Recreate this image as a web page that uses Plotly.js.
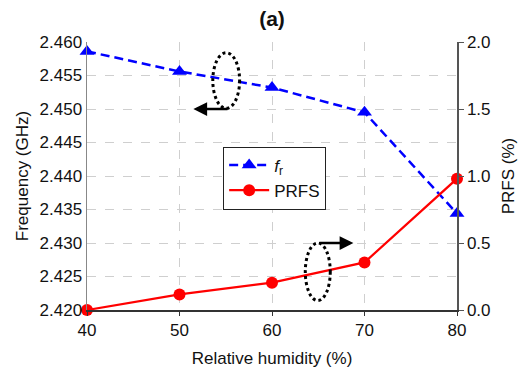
<!DOCTYPE html>
<html><head><meta charset="utf-8">
<script src="https://cdn.plot.ly/plotly-3.0.1.min.js"></script>
<style>body{margin:0;background:#fff}#c{width:528px;height:371px}</style>
</head><body><div id="c"></div>
<script>
const humidity = [40, 50, 60, 70, 80];
const freqGHz = [2.4586, 2.4556, 2.4532, 2.4495, 2.4344];
const prfs = [0.0, 0.116, 0.204, 0.355, 0.98];
const leftTicks = [2.420, 2.425, 2.430, 2.435, 2.440, 2.445, 2.450, 2.455, 2.460];
const rightTicks = [0.0, 0.5, 1.0, 1.5, 2.0];
const xTicks = [40, 50, 60, 70, 80];

const ff = 'Liberation Sans, Arial, sans-serif';
const traces = [
  {x: humidity, y: freqGHz, name: '<i>f</i><sub>r</sub>', mode: 'lines+markers', yaxis: 'y',
   line: {color: '#0000ff', width: 2.5, dash: '9px,5px'}, marker: {symbol: 'triangle-up', size: 13, color: '#0000ff'}, cliponaxis: false},
  {x: humidity, y: prfs, name: 'PRFS', mode: 'lines+markers', yaxis: 'y2',
   line: {color: '#ff0000', width: 2.2}, marker: {symbol: 'circle', size: 12, color: '#ff0000'}, cliponaxis: false}
];
const layout = {
  width: 528, height: 371,
  margin: {l: 87, r: 71, t: 42, b: 61},
  paper_bgcolor: '#fff', plot_bgcolor: '#fff',
  font: {family: ff, size: 17, color: '#111'},
  title: {text: '<b>(a)</b>', x: 0.5, xref: 'paper', y: 0.951, yanchor: 'middle', yref: 'container', font: {family: ff, size: 21, color: '#111'}},
  showlegend: true,
  legend: {x: 0.368, y: 0.61, xanchor: 'left', yanchor: 'top', bordercolor: '#222', borderwidth: 1, bgcolor: '#fff',
           font: {family: ff, size: 17, color: '#111'}, tracegroupgap: 0, itemwidth: 40},
  xaxis: {range: [40, 80], tickvals: xTicks, ticktext: xTicks.map(String), showgrid: true, gridcolor: '#cfcfcf', griddash: 'dash',
          zeroline: false, showline: true, linecolor: '#333', linewidth: 1.5, ticks: 'outside', ticklen: 4, tickcolor: '#333',
          title: {text: 'Relative humidity (%)', font: {size: 17}, standoff: 13}, tickfont: {size: 17}},
  yaxis: {range: [2.420, 2.460], tickvals: leftTicks, ticktext: leftTicks.map(v => v.toFixed(3)), showgrid: true, gridcolor: '#cfcfcf', griddash: 'dash',
          zeroline: false, showline: true, linecolor: '#888', linewidth: 1.5, ticks: '',
          title: {text: 'Frequency (GHz)', font: {size: 17}, standoff: 6}, tickfont: {size: 17}},
  yaxis2: {range: [0, 2.0], tickvals: rightTicks, ticktext: rightTicks.map(v => v.toFixed(1)), overlaying: 'y', side: 'right', showgrid: false,
          zeroline: false, showline: true, linecolor: '#555', linewidth: 1.5, ticks: 'outside', ticklen: 5, tickcolor: '#555',
          title: {text: 'PRFS (%)', font: {size: 17}, standoff: 12}, tickfont: {size: 17}},
  shapes: [
    {type: 'circle', xref: 'x', yref: 'y', x0: 53.6, x1: 56.5, y0: 2.4501, y1: 2.4584, line: {color: '#000', width: 3, dash: '3px,3px'}},
    {type: 'circle', xref: 'x', yref: 'y', x0: 63.6, x1: 66.3, y0: 2.4214, y1: 2.4300, line: {color: '#000', width: 3, dash: '3px,3px'}}
  ],
  annotations: [
    {xref: 'x', yref: 'y', x: 51.5, y: 2.4500, ax: 55.35, ay: 2.4500, axref: 'x', ayref: 'y', showarrow: true, arrowhead: 2, arrowsize: 1.1, arrowwidth: 2.5, arrowcolor: '#000', text: ''},
    {xref: 'x', yref: 'y', x: 68.8, y: 2.4300, ax: 65.0, ay: 2.4300, axref: 'x', ayref: 'y', showarrow: true, arrowhead: 2, arrowsize: 1.1, arrowwidth: 2.5, arrowcolor: '#000', text: ''}
  ]
};
Plotly.newPlot('c', traces, layout, {displayModeBar: false, staticPlot: true});
</script></body></html>
